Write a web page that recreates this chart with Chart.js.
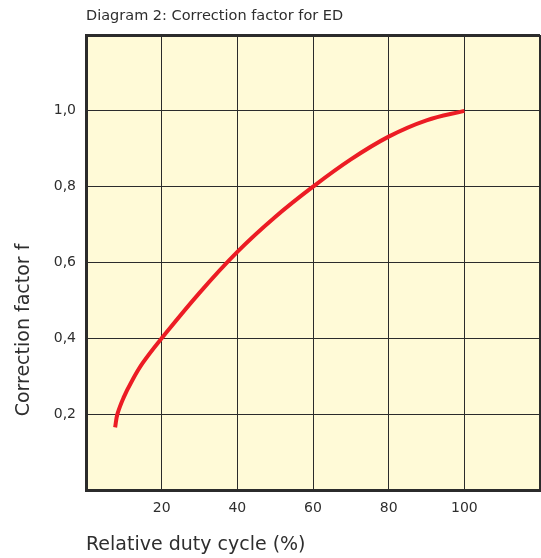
<!DOCTYPE html>
<html>
<head>
<meta charset="utf-8">
<script src="https://cdn.jsdelivr.net/npm/chart.js"></script>
<style>
  html, body { margin: 0; padding: 0; background: #fff; }
  #wrap { width: 541px; height: 558px; }
</style>
</head>
<body>
<div id="wrap"><canvas id="myChart" width="541" height="558"></canvas></div>
<script>
// values
const dutyCycle = [7.7, 8.3, 10, 12, 15, 20, 30, 40, 50, 60, 70, 80, 90, 100];
const factor = [0.165, 0.2, 0.245, 0.285, 0.335, 0.4, 0.52, 0.628, 0.72, 0.8, 0.872, 0.932, 0.975, 1.0];
const xTicks = [20, 40, 60, 80, 100];
const yTicks = [0.2, 0.4, 0.6, 0.8, 1.0];

const textColor = '#2e2e2e';
const gridColor = '#2b2b2b';
const fontFamily = '"DejaVu Sans", sans-serif';

// yellow plot background + rotated y title
const plotDeco = {
    id: 'plotDeco',
    beforeDraw(chart) {
        const { ctx, chartArea: a } = chart;
        ctx.save();
        ctx.fillStyle = '#FFFAD7';
        ctx.fillRect(a.left, a.top, a.right - a.left, a.bottom - a.top);
        ctx.restore();
    },
    afterDraw(chart) {
        const ctx = chart.ctx;
        ctx.save();
        ctx.translate(24, 330);
        ctx.rotate(-Math.PI / 2);
        ctx.font = '19px ' + fontFamily;
        ctx.fillStyle = textColor;
        ctx.textAlign = 'center';
        ctx.textBaseline = 'middle';
        ctx.fillText('Correction factor f', 0, 0);
        ctx.restore();
    }
};

const points = dutyCycle.map((x, i) => ({ x: x, y: factor[i] }));

new Chart(document.getElementById('myChart').getContext('2d'), {
    type: 'line',
    data: {
        datasets: [{
            data: points,
            borderColor: '#EC1C24',
            borderWidth: 4,
            pointRadius: 0,
            fill: false,
            tension: 0.4
        }]
    },
    options: {
        responsive: false,
        animation: false,
        layout: { padding: { top: 0, left: 0, right: 1, bottom: 0 } },
        plugins: {
            legend: { display: false },
            tooltip: { enabled: false },
            title: {
                display: true,
                text: 'Diagram 2: Correction factor for ED',
                align: 'start',
                fullSize: false,
                color: textColor,
                font: { family: fontFamily, size: 14.5, weight: 'normal' },
                padding: { top: 7.5, bottom: 10.1 }
            }
        },
        scales: {
            x: {
                type: 'linear',
                min: 0,
                max: 120,
                afterFit: s => { s.height = 68; s.paddingLeft = 0; s.paddingRight = 0; },
                afterBuildTicks: s => { s.ticks = [0, ...xTicks, 120].map(v => ({ value: v })); },
                ticks: {
                    padding: 10,
                    color: textColor,
                    font: { family: fontFamily, size: 14 },
                    callback: v => xTicks.includes(v) ? String(v) : ''
                },
                grid: {
                    drawTicks: false,
                    color: gridColor,
                    lineWidth: c => c.index === 6 ? 3 : 1
                },
                border: { display: true, width: 3, color: gridColor },
                title: {
                    display: true,
                    text: 'Relative duty cycle (%)',
                    align: 'start',
                    color: textColor,
                    font: { family: fontFamily, size: 19 },
                    padding: { top: 0, bottom: 2 }
                }
            },
            y: {
                min: 0,
                max: 1.2,
                afterFit: s => { s.width = 86; },
                afterBuildTicks: s => { s.ticks = [0, ...yTicks, 1.2].map(v => ({ value: v })); },
                ticks: {
                    padding: 10,
                    color: textColor,
                    font: { family: fontFamily, size: 14 },
                    callback: v => yTicks.some(t => Math.abs(t - v) < 1e-6) ? v.toFixed(1).replace('.', ',') : ''
                },
                grid: {
                    drawTicks: false,
                    color: gridColor,
                    lineWidth: c => c.index === 6 ? 3 : 1
                },
                border: { display: true, width: 3, color: gridColor }
            }
        }
    },
    plugins: [plotDeco]
});
</script>
</body>
</html>
